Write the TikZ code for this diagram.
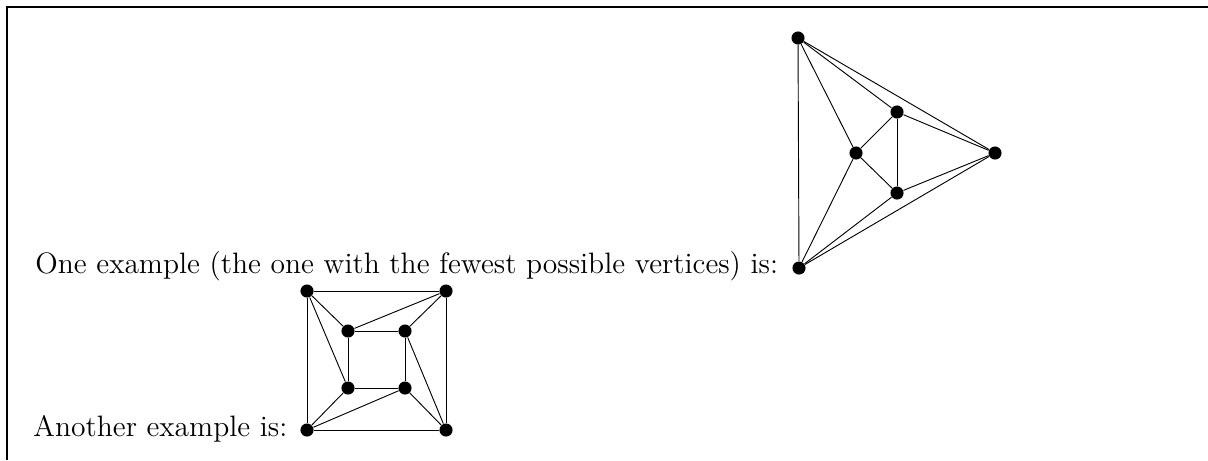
\documentclass[tikz,border=0pt]{standalone}
\begin{document}
\begin{tikzpicture}[x=0.4878pt,y=-0.4878pt,
  vtx/.style={circle,fill=black,inner sep=0pt,minimum size=6.4pt},
  edge/.style={line width=0.45pt},
  txt/.style={anchor=base west,inner sep=0pt,font=\fontsize{14.4}{17}\selectfont}]
\useasboundingbox (0,0) rectangle (1208,460);
% frame
\coordinate (f1) at (7,7);
\coordinate (f2) at (1208,7);
\coordinate (f3) at (7,460);
\draw[line width=0.55pt] (f3) -- (f1) -- (f2);
% texts
\node[txt] (t1) at (35,273) {One example (the one with the fewest possible vertices) is:};
\node[txt] (t2) at (33,436) {Another example is:};
% graph 1
\node[vtx] (T) at (798,38) {};
\node[vtx] (R) at (995,153) {};
\node[vtx] (B) at (799,268) {};
\node[vtx] (M) at (856,153) {};
\node[vtx] (U) at (897,112) {};
\node[vtx] (L) at (897,193) {};
\foreach \a/\b in {T/B,T/M,T/U,T/R,M/U,M/L,M/B,U/L,U/R,L/R,L/B,B/R}
  \draw[edge] (\a) -- (\b);
% graph 2
\node[vtx] (oTL) at (307,291) {};
\node[vtx] (oTR) at (446,291) {};
\node[vtx] (oBL) at (307,430) {};
\node[vtx] (oBR) at (446,430) {};
\node[vtx] (iTL) at (348,331) {};
\node[vtx] (iTR) at (405,331) {};
\node[vtx] (iBL) at (348,388) {};
\node[vtx] (iBR) at (405,388) {};
\foreach \a/\b in {oTL/oTR,oTL/oBL,oTR/oBR,oBL/oBR,iTL/iTR,iTR/iBR,iBR/iBL,iBL/iTL,
  oTL/iTL,oTL/iBL,oTR/iTL,oTR/iTR,oBR/iTR,oBR/iBR,oBL/iBR,oBL/iBL}
  \draw[edge] (\a) -- (\b);
\end{tikzpicture}
\end{document}
